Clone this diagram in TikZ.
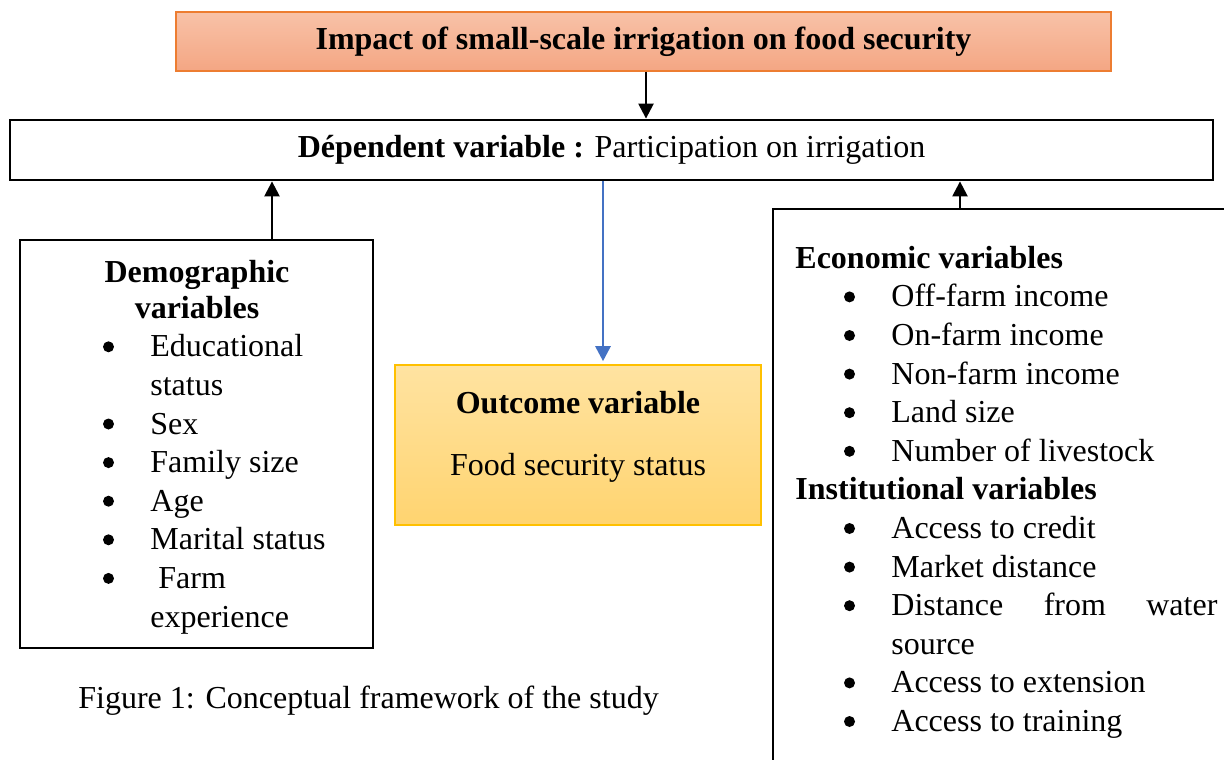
\documentclass[tikz,border=0pt]{standalone}
\usepackage{fontspec}
\setmainfont{Liberation Serif}
\usetikzlibrary{arrows.meta}
\usetikzlibrary{positioning}
\usetikzlibrary{calc}

\definecolor{bannerline}{HTML}{ED7D31}
\definecolor{bannertop}{HTML}{F8C2A8}
\definecolor{bannerbot}{HTML}{F4A683}
\definecolor{outline}{HTML}{FFC000}
\definecolor{outtop}{HTML}{FFE3A1}
\definecolor{outbot}{HTML}{FFD470}
\definecolor{linkblue}{HTML}{4472C4}

% round bullet with a fixed indent
\newcommand{\bul}{\makebox[24pt][l]{\hspace{0.3pt}\tikz[baseline=-5pt]\fill (0,0) circle (2.75pt);}}

\begin{document}
\begin{tikzpicture}[x=0.5pt, y=-0.5pt, font=\fontsize{16}{19.3}\selectfont,
    box/.style={draw, line width=1.4pt, inner sep=0pt},
    arr/.style={-{Triangle[width=7.5pt,length=7.5pt]}, line width=1.2pt},
    txt/.style={inner sep=0pt, align=left}]
        \clip (0,0) rectangle (1224,759);

        % Title banner
        \node[box, draw=bannerline, line width=0.6pt, top color=bannertop, bottom color=bannerbot,
              minimum width=467.5pt, minimum height=29.5pt] (title) at (643.5,41.5)
              {\textbf{Impact of small-scale irrigation on food security}};

        % Dependent variable
        \node[box, minimum width=601.5pt, minimum height=30pt] (dep) at (611.5,150)
              {\textbf{Dépendent variable :} Participation on irrigation};

        % Demographic variables (base = last line)
        \node[box, minimum width=176.5pt, minimum height=204pt] (demo) at (196.5,444) {};
        \node[txt, align=center, anchor=base] (demohead) at (197,318)
              {\textbf{Demographic}\\[-1.7pt]\textbf{variables}};
        \node[txt, anchor=base west] (demolist) at (102,627)
              {\bul Educational\\ \hspace*{24pt}status\\ \bul Sex\\ \bul Family size\\ \bul Age\\
               \bul Marital status\\ \bul\ Farm\\ \hspace*{24pt}experience};

        % Outcome variable
        \node[box, draw=outline, line width=0.8pt, top color=outtop, bottom color=outbot,
              minimum width=183pt, minimum height=80pt] (outcome) at (578,445) {};
        \node[txt, align=center, anchor=base] (outtext) at (578,475)
              {\textbf{Outcome variable}\\[11.7pt]Food security status};

        % Economic and institutional variables
        \node[box, minimum width=233.5pt, minimum height=285.5pt] (frame) at (1006.5,494.5) {};
        \node[txt, anchor=base west] (framelist) at (795,731.5)
              {\textbf{Economic variables}\\
               \hspace*{24pt}\bul Off-farm income\\
               \hspace*{24pt}\bul On-farm income\\
               \hspace*{24pt}\bul Non-farm income\\
               \hspace*{24pt}\bul Land size\\
               \hspace*{24pt}\bul Number of livestock\\
               \textbf{Institutional variables}\\
               \hspace*{24pt}\bul Access to credit\\
               \hspace*{24pt}\bul Market distance\\
               \hspace*{24pt}\bul \makebox[163pt][s]{Distance from water}\\
               \hspace*{48pt}source\\
               \hspace*{24pt}\bul Access to extension\\
               \hspace*{24pt}\bul Access to training};

        % Caption
        \node[inner sep=0pt, anchor=base west] (caption) at (78,708) {Figure 1: Conceptual framework of the study};

        % Arrows
        \coordinate (t1) at ($(title.south)+(2.5,0)$);
        \coordinate (d1) at ($(demo.north)+(75.5,0)$);
        \coordinate (b1) at ($(dep.south)+(-8.5,0)$);
        \coordinate (f1) at ($(frame.north)+(-46.5,0)$);
        \draw[arr] (t1) -- (t1 |- dep.north);
        \draw[arr] (d1) -- (d1 |- dep.south);
        \draw[arr] (f1) -- (f1 |- dep.south);
        \draw[arr, linkblue, line width=1.4pt, shorten >=1.5pt] (b1) -- (b1 |- outcome.north);
\end{tikzpicture}
\end{document}
